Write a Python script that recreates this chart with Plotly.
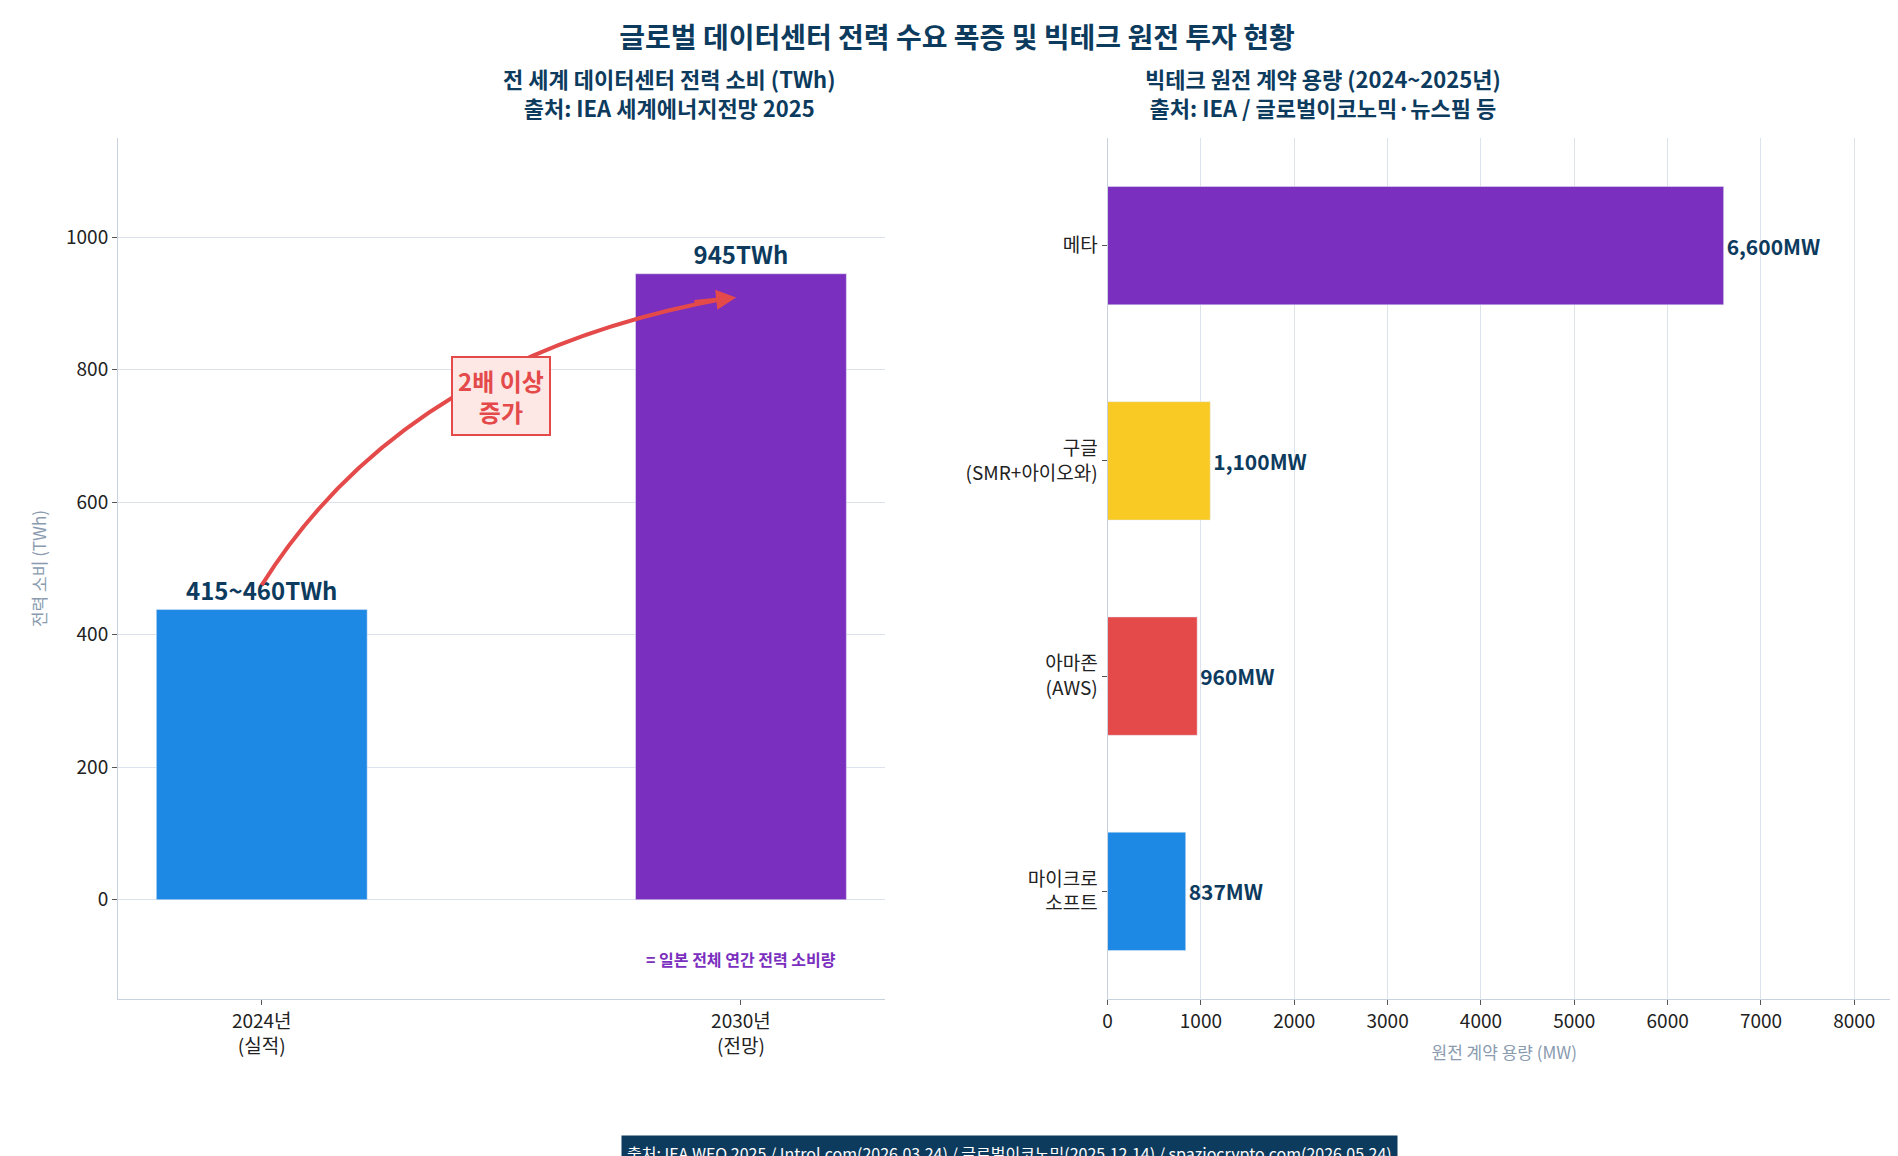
import plotly.graph_objects as go
from plotly.subplots import make_subplots

# -----------------------------------------------------
# Data
# -----------------------------------------------------
years = ["2024년<br>(실적)", "2030년<br>(전망)"]
twh_values = [438, 945]
twh_labels = ["<b>415~460TWh</b>", "<b>945TWh</b>"]
twh_colors = ["#1E88E5", "#7B2FBE"]

companies = ["마이크로<br>소프트", "아마존<br>(AWS)", "구글<br>(SMR+아이오와)", "메타"]
mw_values = [837, 960, 1100, 6600]
mw_labels = ["<b>837MW</b>", "<b>960MW</b>", "<b>1,100MW</b>", "<b>6,600MW</b>"]
mw_colors = ["#1E88E5", "#E44A4A", "#F9C924", "#7B2FBE"]

NAVY = "#0D3B5E"
FONT = "Noto Sans CJK KR"

fig = make_subplots(rows=1, cols=2, horizontal_spacing=0.12)

fig.add_trace(go.Bar(
    x=[0, 1], y=twh_values, marker_color=twh_colors, width=0.44,
    text=twh_labels, textposition="outside",
    textfont=dict(size=24, color=NAVY, family=FONT), cliponaxis=False,
    showlegend=False), row=1, col=1)

fig.add_trace(go.Bar(
    y=companies, x=mw_values, orientation="h", marker_color=mw_colors, width=0.55,
    text=mw_labels, textposition="outside",
    textfont=dict(size=21, color=NAVY, family=FONT), cliponaxis=False,
    showlegend=False), row=1, col=2)

# curved arrow
fig.add_shape(type="path", path="M 0,475 Q 0.3,820 0.97,908",
              xref="x", yref="y", line=dict(color="#E44A4A", width=4), layer="above")
fig.add_annotation(x=0.99, y=909, ax=0.9, ay=902, xref="x", yref="y", axref="x", ayref="y",
                   text="", showarrow=True, arrowhead=2, arrowsize=1, arrowwidth=4,
                   arrowcolor="#E44A4A")
fig.add_annotation(x=0.5, y=760, xref="x", yref="y", text="<b>2배 이상<br>증가</b>",
                   showarrow=False, font=dict(size=24, color="#E44A4A", family=FONT),
                   bgcolor="#FDE8E6", bordercolor="#E44A4A", borderwidth=2, borderpad=5)
fig.add_annotation(x=1.0, y=-90, xref="x", yref="y", text="<b>= 일본 전체 연간 전력 소비량</b>",
                   showarrow=False, font=dict(size=16, color="#7B2FBE", family=FONT))

axis_common = dict(gridcolor="#DCE3EC", zeroline=False, showline=True, linecolor="#C8D2DE",
                   tickfont=dict(size=19, color="#222", family=FONT), ticks="outside",
                   tickcolor="#555", ticklen=5)
fig.update_xaxes(range=[-0.3, 1.3], tickvals=[0, 1], ticktext=years, showgrid=False,
                 row=1, col=1, **axis_common)
fig.update_yaxes(range=[-150, 1150], tickvals=[0, 200, 400, 600, 800, 1000],
                 title=dict(text="전력 소비 (TWh)", font=dict(size=17, color="#8A9BB0")),
                 row=1, col=1, **axis_common)
fig.update_xaxes(range=[0, 8500], dtick=1000,
                 title=dict(text="원전 계약 용량 (MW)", font=dict(size=17, color="#8A9BB0")),
                 row=1, col=2, **axis_common)
fig.update_yaxes(showgrid=False, row=1, col=2, **axis_common)

fig.update_layout(
    width=1898, height=1156, plot_bgcolor="white", paper_bgcolor="white",
    font=dict(family=FONT),
    margin=dict(l=110, r=5, t=130, b=165),
    title=dict(text="<b>글로벌 데이터센터 전력 수요 폭증 및 빅테크 원전 투자 현황</b>",
               x=0.5, y=0.982, font=dict(size=28, color=NAVY)),
)
fig.update_xaxes(domain=[0.0, 0.43], row=1, col=1)
fig.update_xaxes(domain=[0.555, 1.0], row=1, col=2)

fig.add_annotation(x=0.215, y=1.015, xref="paper", yref="paper", yanchor="bottom",
                   text="<b>전 세계 데이터센터 전력 소비 (TWh)<br>출처: IEA 세계에너지전망 2025</b>",
                   showarrow=False, font=dict(size=22, color=NAVY))
fig.add_annotation(x=0.777, y=1.015, xref="paper", yref="paper", yanchor="bottom",
                   text="<b>빅테크 원전 계약 용량 (2024~2025년)<br>출처: IEA / 글로벌이코노믹·뉴스핌 등</b>",
                   showarrow=False, font=dict(size=22, color=NAVY))
fig.add_annotation(x=0.5, y=-0.2, xref="paper", yref="paper",
                   text="출처: IEA WEO 2025 / Introl.com(2026.03.24) / 글로벌이코노믹(2025.12.14) / spaziocrypto.com(2026.05.24)",
                   showarrow=False, font=dict(size=16, color="white"),
                   bgcolor=NAVY, borderpad=5)

fig.write_html("out.html")
